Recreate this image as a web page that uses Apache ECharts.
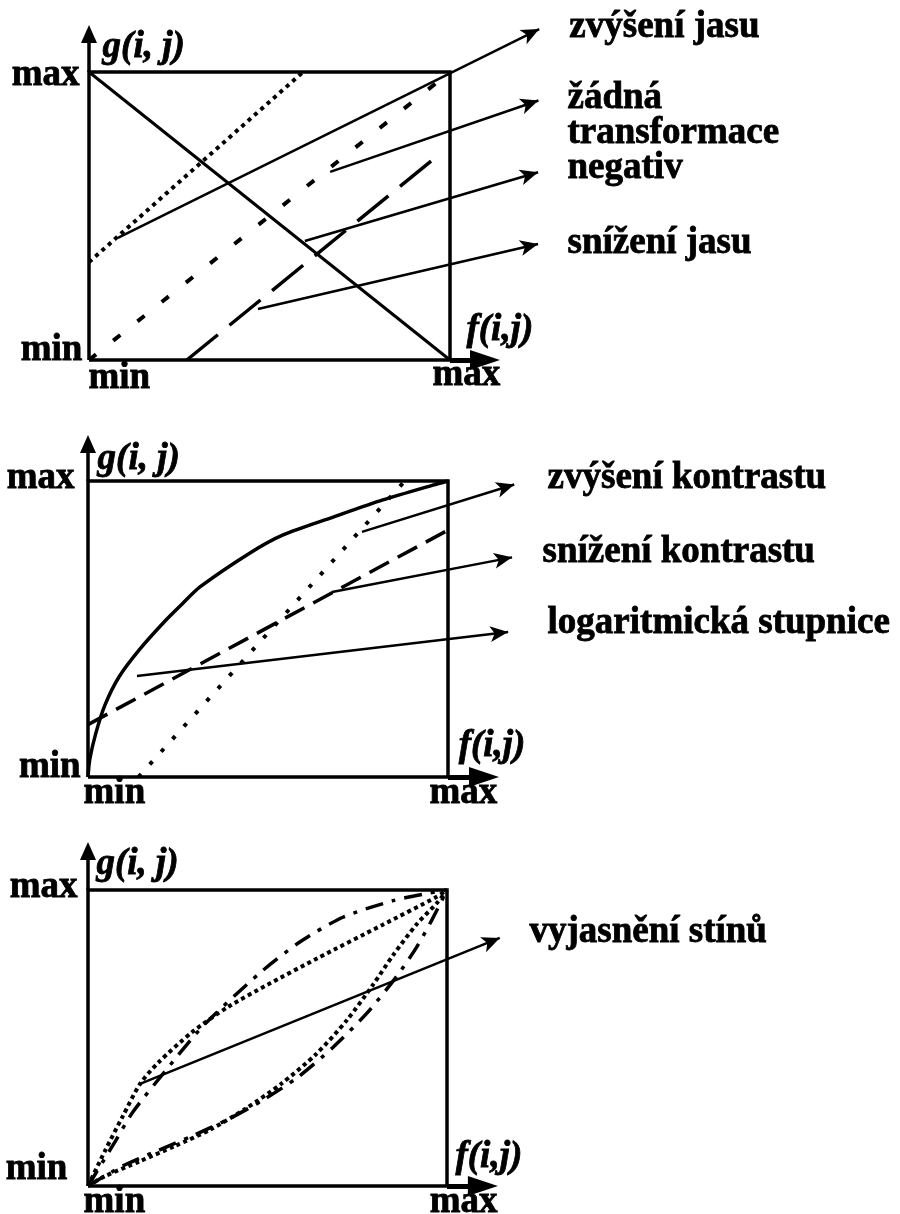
<!DOCTYPE html>
<html>
<head>
<meta charset="utf-8">
<script src="https://cdn.jsdelivr.net/npm/echarts@6/dist/echarts.min.js"></script>
<style>
  html, body { margin: 0; background: #fff; }
  #chart { width: 900px; height: 1214px; }
</style>
</head>
<body>
<div id="chart"></div>
<script>
// popisky os
const tickNames = ['max', 'min', 'min', 'max']
const axisNames = ['g(i, j)', 'f(i,j)']

// 1. jas
const negativ = [[0, 1], [1, 0]]
const zvyseniJasu = [[0, 0.34], [0.593, 1]]
const zadnaTransformace = [[0, 0], [1, 1]]
const snizeniJasu = [[0.271, 0], [0.978, 0.722]]
const popisky1 = ['zvýšení jasu', 'žádná', 'transformace', 'negativ', 'snížení jasu']
const kotvy1 = [[1.332, 1.153], [1.327, 0.906], [1.327, 0.785], [1.327, 0.663], [1.327, 0.403]]
const sipky1 = [
  [[0.080, 0.424], [1.247, 1.149]],
  [[0.668, 0.653], [1.245, 0.901]],
  [[0.598, 0.413], [1.244, 0.652]],
  [[0.468, 0.177], [1.244, 0.403]]
]
const osy1 = [[-0.025, 0.986], [-0.017, 0.031], [0, -0.066], [0.953, -0.056], [0.039, 1.083], [1.047, 0.101]]

// 2. kontrast
const logaritmicka = [[0, 0], [0.005, 0.06], [0.022, 0.149], [0.047, 0.243], [0.086, 0.338], [0.144, 0.432],
  [0.214, 0.527], [0.261, 0.584], [0.311, 0.642], [0.45, 0.757], [0.542, 0.818], [0.681, 0.878],
  [0.819, 0.936], [0.958, 0.986], [1, 1]]
const snizeniKontrastu = [[0, 0.177], [1, 0.834]]
const zvyseniKontrastu = [[0.14, 0], [0.88, 1]]
const popisky2 = ['zvýšení kontrastu', 'snížení kontrastu', 'logaritmická stupnice']
const kotvy2 = [[1.278, 1.007], [1.264, 0.757], [1.278, 0.517]]
const sipky2 = [
  [[0.761, 0.828], [1.184, 0.988]],
  [[0.678, 0.625], [1.178, 0.742]],
  [[0.136, 0.341], [1.167, 0.49]]
]
const osy2 = [[-0.036, 1.007], [-0.019, 0.03], [-0.011, -0.057], [0.95, -0.057], [0.028, 1.071], [1.031, 0.101]]

// 3. stíny
const horniTeckovana = [[0, 0], [0.047, 0.118], [0.097, 0.236], [0.145, 0.345], [0.195, 0.416], [0.29, 0.52],
  [0.39, 0.605], [0.5, 0.68], [0.64, 0.77], [0.82, 0.882], [0.97, 0.976], [1, 1]]
const horniCerchovana = [[0, 0], [0.078, 0.155], [0.125, 0.25], [0.223, 0.4], [0.32, 0.54],
  [0.479, 0.72], [0.591, 0.825], [0.71, 0.908], [0.85, 0.964], [0.953, 0.99], [1, 1]]
const dolniTeckovana = [[0, 0], [0.047, 0.033], [0.145, 0.084], [0.242, 0.135], [0.34, 0.19], [0.44, 0.262],
  [0.538, 0.345], [0.635, 0.445], [0.721, 0.56], [0.794, 0.68], [0.85, 0.78],
  [0.916, 0.885], [0.972, 0.956], [1, 1]]
const dolniCerchovana = [[0, 0], [0.097, 0.068], [0.195, 0.12], [0.292, 0.17], [0.39, 0.225], [0.487, 0.29],
  [0.585, 0.368], [0.682, 0.468], [0.777, 0.584], [0.861, 0.71], [0.916, 0.808], [0.958, 0.899], [1, 1]]
const popisky3 = ['vyjasnění stínů']
const kotvy3 = [[1.231, 0.855]]
const sipky3 = [[[0.145, 0.345], [1.147, 0.838]]]
const osy3 = [[-0.028, 1.007], [-0.056, 0.054], [-0.011, -0.057], [0.953, -0.057], [0.025, 1.084], [1.025, 0.095]]

const INK = '#000'
const FONT = '"Liberation Serif", "Times New Roman", serif'

const chart = echarts.init(document.getElementById('chart'), null, { renderer: 'canvas' })

function base(g) {
  return { xAxisIndex: g, yAxisIndex: g, silent: true, animation: false, clip: false }
}

function box(g) {
  return {
    ...base(g), type: 'line', symbol: 'none',
    data: [[0, 0], [1, 0], [1, 1], [0, 1], [0, 0]],
    lineStyle: { color: INK, width: 3.5, join: 'miter' }
  }
}

function curve(g, data, width, dash, smooth) {
  return {
    ...base(g), type: 'line', symbol: 'none', data,
    smooth: smooth || false,
    lineStyle: { color: INK, width, type: dash || 'solid', cap: 'butt' }
  }
}

function axisArrow(g, from, to, width, size) {
  return {
    ...base(g), type: 'lines', coordinateSystem: 'cartesian2d',
    symbol: ['none', 'triangle'], symbolSize: [0, size],
    lineStyle: { color: INK, width, opacity: 1, curveness: 0 },
    data: [{ coords: [from, to] }]
  }
}

function pointers(g, arrows) {
  return {
    ...base(g), type: 'lines', coordinateSystem: 'cartesian2d',
    symbol: ['none', 'arrow'], symbolSize: [0, [12, 18]],
    lineStyle: { color: INK, width: 2.5, opacity: 1, curveness: 0 },
    data: arrows.map(a => ({ coords: a }))
  }
}

function texts(g, names, anchors, aligns, italic) {
  return {
    ...base(g), type: 'scatter', symbolSize: 1,
    itemStyle: { color: 'rgba(255,255,255,0)' },
    label: {
      show: true, position: [0, 0], verticalAlign: 'middle', formatter: '{b}',
      color: INK, fontFamily: FONT, fontWeight: 'bold', fontSize: 37,
      textBorderColor: INK, textBorderWidth: 0.8, opacity: 1
    },
    data: names.map((n, i) => ({
      name: n, value: anchors[i],
      label: {
        align: aligns[i], color: INK,
        fontStyle: italic && italic[i] ? 'italic' : 'normal'
      }
    }))
  }
}

function axisTexts(g, anchors) {
  const names = tickNames.concat(axisNames)
  return texts(g, names, anchors, ['right', 'right', 'left', 'left', 'left', 'left'],
    [false, false, false, false, true, true])
}

const grids = [
  { left: 89, top: 72, width: 361, height: 288 },
  { left: 88, top: 481, width: 360, height: 296 },
  { left: 88, top: 890, width: 359, height: 296 }
]

const series = []
// 1
series.push(box(0))
series.push(axisArrow(0, [0, 1], [0, 1.132], 3.5, [16, 18]))
series.push(axisArrow(0, [1, 0], [1.097, 0], 5, [20, 30]))
series.push(curve(0, negativ, 3))
series.push(curve(0, zvyseniJasu, 4, [4, 4.5]))
series.push(curve(0, zadnaTransformace, 4, [9, 22]))
series.push(curve(0, snizeniJasu, 3.5, [40, 15]))
series.push(pointers(0, sipky1))
series.push(texts(0, popisky1, kotvy1, popisky1.map(() => 'left')))
series.push(axisTexts(0, osy1))
// 2
series.push(box(1))
series.push(axisArrow(1, [0, 1], [0, 1.125], 3.5, [16, 18]))
series.push(axisArrow(1, [1, 0], [1.1, 0], 5, [20, 30]))
series.push(curve(1, logaritmicka, 3.5, null, 0.25))
series.push(curve(1, snizeniKontrastu, 3.5, [22, 10]))
series.push(curve(1, zvyseniKontrastu, 4, [4, 13]))
series.push(pointers(1, sipky2))
series.push(texts(1, popisky2, kotvy2, popisky2.map(() => 'left')))
series.push(axisTexts(1, osy2))
// 3
series.push(box(2))
series.push(axisArrow(2, [0, 1], [0, 1.132], 3.5, [16, 18]))
series.push(axisArrow(2, [1, 0], [1.1, 0], 5, [20, 30]))
series.push(curve(2, horniTeckovana, 4, [4, 3.5], 0.25))
series.push(curve(2, horniCerchovana, 3.5, [18, 9, 4, 9], 0.25))
series.push(curve(2, dolniTeckovana, 4, [4, 3.5], 0.25))
series.push(curve(2, dolniCerchovana, 3.5, [18, 9, 4, 9], 0.25))
series.push(pointers(2, sipky3))
series.push(texts(2, popisky3, kotvy3, ['left']))
series.push(axisTexts(2, osy3))

const option = {
  backgroundColor: '#fff',
  animation: false,
  grid: grids,
  xAxis: grids.map((_, g) => ({ gridIndex: g, type: 'value', min: 0, max: 1, show: false })),
  yAxis: grids.map((_, g) => ({ gridIndex: g, type: 'value', min: 0, max: 1, show: false })),
  series
}

chart.setOption(option)
</script>
</body>
</html>
